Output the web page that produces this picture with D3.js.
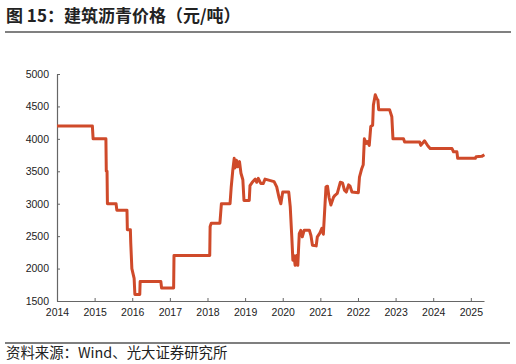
<!DOCTYPE html>
<html>
<head>
<meta charset="utf-8">
<script src="https://cdn.jsdelivr.net/npm/d3@7/dist/d3.min.js"></script>
<style>
    body { margin: 0; background: #fff; }
    svg { display: block; }
</style>
</head>
<body>
<div id="chart"></div>
<script>
// Datos: fecha (año decimal) y precio (元/吨)
var fechas = [
    2014.00, 2014.94, 2014.96, 2015.30, 2015.31, 2015.33, 2015.34, 2015.57, 2015.59, 2015.86,
    2015.87, 2015.95, 2015.96, 2015.99, 2016.03, 2016.05, 2016.07, 2016.20, 2016.21, 2016.76,
    2016.78, 2017.10, 2017.11, 2018.06, 2018.07, 2018.10, 2018.33, 2018.35, 2018.37, 2018.60,
    2018.63, 2018.67, 2018.71, 2018.73, 2018.77, 2018.80, 2018.85, 2018.89, 2018.94, 2018.97,
    2019.11, 2019.13, 2019.19, 2019.27, 2019.31, 2019.35, 2019.42, 2019.48, 2019.53, 2019.77,
    2019.84, 2019.90, 2019.95, 2020.00, 2020.16, 2020.20, 2020.24, 2020.27, 2020.30, 2020.33,
    2020.37, 2020.40, 2020.44, 2020.48, 2020.52, 2020.57, 2020.71, 2020.75, 2020.79, 2020.89,
    2020.92, 2020.99, 2021.04, 2021.08, 2021.15, 2021.19, 2021.23, 2021.28, 2021.35, 2021.39,
    2021.45, 2021.53, 2021.59, 2021.64, 2021.69, 2021.75, 2021.79, 2021.84, 2022.01, 2022.04,
    2022.10, 2022.14, 2022.17, 2022.22, 2022.25, 2022.30, 2022.34, 2022.39, 2022.41, 2022.46,
    2022.50, 2022.53, 2022.55, 2022.84, 2022.90, 2022.93, 2023.21, 2023.24, 2023.64, 2023.67,
    2023.77, 2023.86, 2023.92, 2024.50, 2024.54, 2024.63, 2024.65, 2025.12, 2025.14, 2025.29,
    2025.36
];
var precios = [
    4200, 4200, 4000, 4000, 3500, 3500, 3000, 3000, 2900, 2900,
    2600, 2600, 2400, 2000, 1900, 1850, 1600, 1600, 1800, 1800,
    1700, 1700, 2200, 2200, 2650, 2700, 2700, 2850, 3000, 3000,
    3250, 3500, 3700, 3550, 3670, 3570, 3650, 3470, 3370, 3050,
    3050, 3280, 3330, 3380, 3330, 3390, 3310, 3310, 3380, 3340,
    3260, 3100, 3000, 3180, 3180, 2950, 2500, 2130, 2200, 2050,
    2200, 2050, 2540, 2590, 2490, 2590, 2590, 2510, 2360, 2350,
    2490, 2550, 2620, 2530, 3260, 3270, 3100, 2980, 3100, 3130,
    3160, 3330, 3320, 3210, 3180, 3290, 3270, 3180, 3170, 3410,
    3540, 3600, 4000, 3930, 3960, 3900, 4190, 4210, 4520, 4680,
    4620, 4600, 4450, 4450, 4340, 4000, 4000, 3950, 3950, 3900,
    3970, 3890, 3850, 3850, 3800, 3800, 3700, 3700, 3725, 3730,
    3755
];
var anios = [2014, 2015, 2016, 2017, 2018, 2019, 2020, 2021, 2022, 2023, 2024, 2025];
var valoresY = [1500, 2000, 2500, 3000, 3500, 4000, 4500, 5000];

var titulo = "图 15：建筑沥青价格（元/吨）";
var fuente = "资料来源：Wind、光大证券研究所";

var width = 516, height = 364;
var cjk = "'Noto Sans CJK SC', 'Noto Sans', sans-serif";
var numFont = "'Liberation Sans', Arial, sans-serif";

var svg = d3.select("#chart").append("svg")
    .attr("width", width)
    .attr("height", height);

// Título y líneas separadoras
svg.append("text")
    .attr("x", 6)
    .attr("y", 22)
    .attr("font-family", cjk)
    .attr("font-weight", "bold")
    .attr("font-size", "17px")
    .attr("fill", "#222")
    .text(titulo);

svg.append("line")
    .attr("x1", 5).attr("x2", 511)
    .attr("y1", 32).attr("y2", 32)
    .attr("stroke", "#808080")
    .attr("stroke-width", 2);

svg.append("line")
    .attr("x1", 5).attr("x2", 510)
    .attr("y1", 343).attr("y2", 343)
    .attr("stroke", "#555")
    .attr("stroke-width", 1.5);

svg.append("text")
    .attr("x", 6)
    .attr("y", 358)
    .attr("font-family", cjk)
    .attr("font-size", "14.4px")
    .attr("fill", "#222")
    .text(fuente);

// Escalas
var x = d3.scaleLinear().domain([2014, 2025.35]).range([57, 484]);
var y = d3.scaleLinear().domain([1500, 5000]).range([301, 74]);

// Ejes con marcas hacia dentro
var ejeX = svg.append("g")
    .attr("transform", "translate(0," + y(1500) + ")")
    .call(d3.axisBottom(x).tickValues(anios).tickFormat(d3.format("d")).tickSizeInner(-3).tickSizeOuter(0).tickPadding(8));

var ejeY = svg.append("g")
    .attr("transform", "translate(" + x(2014) + ",0)")
    .call(d3.axisLeft(y).tickValues(valoresY).tickFormat(d3.format("d")).tickSizeInner(-3).tickSizeOuter(0).tickPadding(8));

[ejeX, ejeY].forEach(function (eje) {
    eje.select(".domain").attr("stroke", "#666").attr("stroke-width", 1.2);
    eje.selectAll(".tick line").attr("stroke", "#666");
    eje.selectAll(".tick text")
        .attr("font-family", numFont)
        .attr("font-size", "10.5px")
        .attr("fill", "#222");
});

// Línea de precios
var puntos = fechas.map(function (f, i) { return [f, precios[i]]; });
var linea = d3.line()
    .x(function (d) { return x(d[0]); })
    .y(function (d) { return y(d[1]); });

svg.append("path")
    .datum(puntos)
    .attr("d", linea)
    .attr("fill", "none")
    .attr("stroke", "#cf4a2a")
    .attr("stroke-width", 3)
    .attr("stroke-linejoin", "round");
</script>
</body>
</html>
